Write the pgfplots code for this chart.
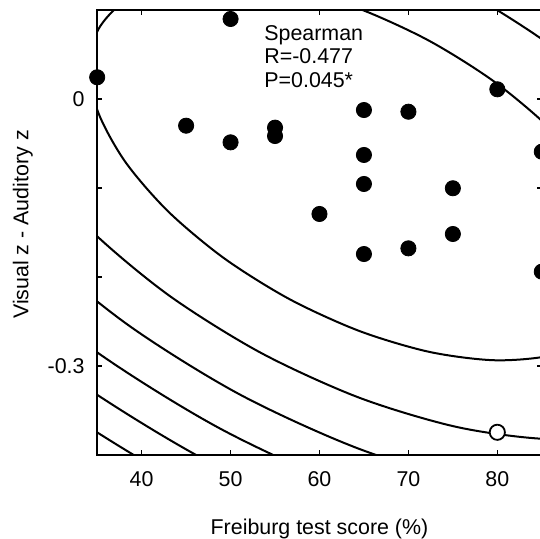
\documentclass[border=0pt]{standalone}
\usepackage{fontspec}
\setmainfont{Liberation Sans}
\usepackage{pgfplots}
\pgfplotsset{compat=1.18}
\begin{document}
\begin{tikzpicture}
\begin{axis}[
  scale only axis, width=222.3pt, height=222.5pt,
  xmin=35, xmax=85, ymin=-0.4, ymax=0.1,
  xtick={40,50,60,70,80}, xticklabels={40,50,60,70,80},
  ytick={-0.3,-0.2,-0.1,0}, yticklabels={-0.3,,,0},
  xtick pos=both, ytick pos=both,
  tick align=inside, major tick length=2.6pt,
  tick style={line width=0.8pt, black},
  axis line style={line width=1.3pt},
  tick label style={font=\fontsize{10.7}{12}\selectfont},
  xticklabel style={inner sep=0pt, yshift=-8.3pt},
  yticklabel style={inner sep=0pt, xshift=-6.1pt},
  xlabel={Freiburg test score (\%)},
  ylabel={Visual z - Auditory z},
  label style={font=\fontsize{10.7}{12}\selectfont},
  xlabel style={at={(axis description cs:0.5,-0.1782)}, anchor=base, inner sep=0pt},
  ylabel style={at={(axis description cs:-0.155,0.518)}, anchor=base, inner sep=0pt},
]
% contour ellipses
\addplot[black, line width=1pt, smooth, no markers] coordinates {
(38.132,0.11028) (42.939,0.12965) (49.210,0.13476) (56.516,0.12529) (64.362,0.10185) (72.211,0.06608) (79.528,0.02039) (85.816,-0.03211) (90.646,-0.08782) (93.687,-0.14295) (94.734,-0.19376) (93.715,-0.23678) (90.698,-0.26906) (85.891,-0.28843) (79.620,-0.29354) (72.314,-0.28407) (64.468,-0.26063) (56.619,-0.22486) (49.302,-0.17917) (43.014,-0.12667) (38.184,-0.07096) (35.143,-0.01583) (34.096,0.03498) (35.115,0.07800) (38.132,0.11028) (42.939,0.12965) (49.210,0.13476)
};
\addplot[black, line width=1pt, smooth, no markers] coordinates {
(27.245,0.18884) (34.043,0.21624) (42.912,0.22346) (53.244,0.21007) (64.340,0.17692) (75.440,0.12634) (85.788,0.06172) (94.681,-0.01253) (101.511,-0.09131) (105.812,-0.16928) (107.293,-0.24113) (105.852,-0.30197) (101.585,-0.34762) (94.787,-0.37502) (85.918,-0.38224) (75.586,-0.36885) (64.490,-0.33570) (53.390,-0.28512) (43.042,-0.22050) (34.149,-0.14625) (27.319,-0.06747) (23.018,0.01050) (21.537,0.08235) (22.978,0.14319) (27.245,0.18884) (34.043,0.21624) (42.912,0.22346)
};
\addplot[black, line width=1pt, smooth, no markers] coordinates {
(90.751,-0.45031) (78.096,-0.43391) (64.507,-0.39331) (50.912,-0.33135) (38.238,-0.25221) (27.347,-0.16128) (18.982,-0.06479) (13.714,0.03070) (11.901,0.11871)
};
\addplot[black, line width=1pt, smooth, no markers] coordinates {
(80.213,-0.48875) (64.521,-0.44187) (48.823,-0.37033) (34.189,-0.27895) (21.613,-0.17395) (11.953,-0.06253) (5.871,0.04773)
};
\addplot[black, line width=1pt, smooth, no markers] coordinates {
(82.078,-0.53707) (64.534,-0.48466) (46.983,-0.40468) (30.621,-0.30251) (16.561,-0.18511) (5.761,-0.06054)
};
\addplot[black, line width=1pt, smooth, no markers] coordinates {
(83.764,-0.58075) (64.545,-0.52334) (45.319,-0.43572) (27.396,-0.32380) (11.993,-0.19520) (0.162,-0.05874)
};
% data points
\addplot[only marks, mark=*, mark size=3.8pt, black, mark options={line width=0.4pt}] coordinates {
(35,0.0244) (50,0.0899) (45,-0.0300) (50,-0.0487) (55,-0.0322) (55,-0.0416)
(60,-0.1292) (65,-0.0124) (70,-0.0143) (80,0.0109) (65,-0.0629) (65,-0.0955)
(75,-0.1003) (75,-0.1517) (70,-0.1678) (65,-0.1742) (85,-0.0592) (85,-0.1940)
};
\addplot[only marks, mark=*, mark size=3.8pt, mark options={fill=white, draw=black, line width=0.9pt}] coordinates {
(80,-0.3745)
};
\node[anchor=north west, inner sep=0pt, align=left, font=\fontsize{10.7}{11.65}\selectfont] at (axis cs:53.76,0.0830) {Spearman\\R=-0.477\\P=0.045*};
\coordinate (bbsw) at (axis cs:24.07,-0.49438);
\coordinate (bbne) at (axis cs:84.80,0.11124);
\end{axis}
\pgfresetboundingbox
\path[use as bounding box] (bbsw) rectangle (bbne);
\end{tikzpicture}
\end{document}
